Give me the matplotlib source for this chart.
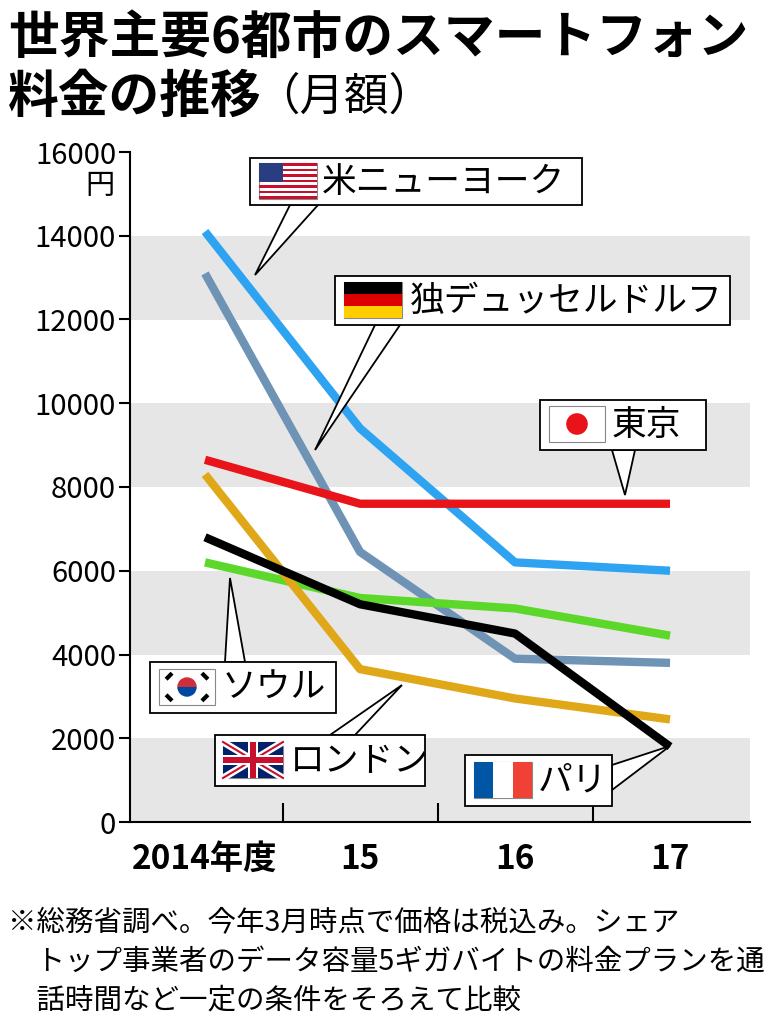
import matplotlib
matplotlib.use("Agg")
import matplotlib.pyplot as plt
from matplotlib.patches import Rectangle, Circle, Polygon, Wedge
import numpy as np

plt.rcParams['font.family'] = ['Noto Sans CJK JP', 'DejaVu Sans']

years = ["2014年度", "15", "16", "17"]
ny = [14100, 9400, 6200, 6000]
dus = [13100, 6450, 3900, 3800]
tokyo = [8650, 7600, 7600, 7600]
seoul = [6200, 5350, 5100, 4450]
london = [8300, 3650, 2950, 2450]
paris = [6800, 5200, 4500, 1800]

W, H = 770, 1024
fig = plt.figure(figsize=(7.7, 10.24), dpi=100)
def fx(x): return x / W
def fy(y): return 1 - y / H

ax = fig.add_axes([fx(130), fy(822), 620 / W, 670 / H])
ax.set_xlim(-0.484, 3.516)
ax.set_ylim(0, 16000)
for lo in [0, 4000, 8000, 12000]:
    ax.axhspan(lo, lo + 2000, color='#e6e6e6', lw=0, zorder=0)
x = np.arange(4)
for vals, c in [(ny, '#2ea3f2'), (dus, '#6e93b5'), (tokyo, '#e8141a'),
                (seoul, '#5cd82a'), (london, '#e0a818'), (paris, '#000000')]:
    ax.plot(x, vals, color=c, lw=6, solid_capstyle='butt', solid_joinstyle='round', zorder=3)
for s in ['top', 'right']:
    ax.spines[s].set_visible(False)
ax.spines['left'].set_linewidth(1.5)
ax.spines['bottom'].set_linewidth(1.5)
ax.set_yticks(range(0, 16001, 2000))
ax.set_yticklabels([str(v) for v in range(0, 16001, 2000)], fontsize=21)
ax.tick_params(axis='y', length=8, width=1.5, pad=2)
ax.set_xticks([0.5, 1.5, 2.5])
ax.set_xticklabels([])
ax.tick_params(axis='x', length=14, width=1.5, direction='in')
for i, t in enumerate(years):
    ax.text(i, -500, t, ha='center', va='top', fontsize=24, fontweight='bold')
fig.text(fx(100), fy(186), "円", fontsize=21, ha='center', va='center')

fig.text(fx(8), fy(38), "世界主要6都市のスマートフォン", fontsize=36.5, fontweight='bold', va='center')
fig.text(fx(8), fy(97), "料金の推移", fontsize=36.5, fontweight='bold', va='center')
fig.text(fx(255), fy(97), "（月額）", fontsize=32, va='center')

fig.text(fx(8), fy(922), "※総務省調べ。今年3月時点で価格は税込み。シェア", fontsize=20.5, va='center')
fig.text(fx(8), fy(962), "　トップ事業者のデータ容量5ギガバイトの料金プランを通", fontsize=20.5, va='center')
fig.text(fx(8), fy(1000), "　話時間など一定の条件をそろえて比較", fontsize=20.5, va='center')

ov = fig.add_axes([0, 0, 1, 1], zorder=10)
ov.set_xlim(0, W); ov.set_ylim(H, 0); ov.axis('off')

def box(x0, y0, x1, y1, text, tx, leader):
    ov.add_patch(Polygon(leader, closed=True, fc='white', ec='black', lw=1.3, zorder=1))
    ov.add_patch(Rectangle((x0, y0), x1 - x0, y1 - y0, fc='white', ec='black', lw=1.3, zorder=2))
    ov.text(tx, (y0 + y1) / 2 + 1, text, fontsize=25, va='center', ha='left', zorder=3)

def flag(kind, x0, y0, w, h):
    z = 4
    ov.add_patch(Rectangle((x0, y0), w, h, fc='white', ec='#888', lw=0.8, zorder=z))
    if kind == 'us':
        for i in range(13):
            if i % 2 == 0:
                ov.add_patch(Rectangle((x0, y0 + i * h / 13), w, h / 13, fc='#c8102e', lw=0, zorder=z))
        ov.add_patch(Rectangle((x0, y0), w * 0.42, h * 7 / 13, fc='#2a3d80', lw=0, zorder=z))
    elif kind == 'de':
        for i, c in enumerate(['black', '#dd0000', '#ffce00']):
            ov.add_patch(Rectangle((x0, y0 + i * h / 3), w, h / 3, fc=c, lw=0, zorder=z))
    elif kind == 'jp':
        ov.add_patch(Circle((x0 + w / 2, y0 + h / 2), h * 0.3, fc='#e8141a', lw=0, zorder=z))
    elif kind == 'kr':
        cx, cy, r = x0 + w / 2, y0 + h / 2, h * 0.27
        ov.add_patch(Wedge((cx, cy), r, 180, 360, fc='#cd2e3a', lw=0, zorder=z))
        ov.add_patch(Wedge((cx, cy), r, 0, 180, fc='#0047a0', lw=0, zorder=z))
        for dx, dy in [(-1, -1), (1, 1), (-1, 1), (1, -1)]:
            px, py = cx + dx * w * 0.32, cy + dy * h * 0.3
            sgn = 1 if dx * dy > 0 else -1
            ov.plot([px - 3, px + 3], [py + 3 * sgn, py - 3 * sgn], color='black', lw=3,
                    zorder=z, solid_capstyle='butt')
    elif kind == 'uk':
        ov.add_patch(Rectangle((x0, y0), w, h, fc='#012169', lw=0, zorder=z))
        ov.plot([x0, x0 + w], [y0, y0 + h], color='white', lw=5, zorder=z)
        ov.plot([x0, x0 + w], [y0 + h, y0], color='white', lw=5, zorder=z)
        ov.plot([x0, x0 + w], [y0, y0 + h], color='#c8102e', lw=1.5, zorder=z)
        ov.plot([x0, x0 + w], [y0 + h, y0], color='#c8102e', lw=1.5, zorder=z)
        ov.add_patch(Rectangle((x0, y0 + h * 0.36), w, h * 0.28, fc='white', lw=0, zorder=z))
        ov.add_patch(Rectangle((x0 + w / 2 - h * 0.14, y0), h * 0.28, h, fc='white', lw=0, zorder=z))
        ov.add_patch(Rectangle((x0, y0 + h * 0.42), w, h * 0.16, fc='#c8102e', lw=0, zorder=z))
        ov.add_patch(Rectangle((x0 + w / 2 - h * 0.08, y0), h * 0.16, h, fc='#c8102e', lw=0, zorder=z))
    elif kind == 'fr':
        for i, c in enumerate(['#0055a4', 'white', '#ef4135']):
            ov.add_patch(Rectangle((x0 + i * w / 3, y0), w / 3, h, fc=c, lw=0, zorder=z))

box(250, 158, 582, 205, "米ニューヨーク", 322, [(290, 205), (318, 205), (255, 275)])
flag('us', 259, 163, 58, 36)
box(335, 276, 730, 325, "独デュッセルドルフ", 410, [(375, 325), (400, 325), (315, 450)])
flag('de', 344, 282, 58, 36)
box(540, 400, 706, 450, "東京", 612, [(612, 450), (635, 450), (625, 495)])
flag('jp', 549, 406, 56, 36)
box(150, 662, 336, 713, "ソウル", 222, [(225, 662), (245, 662), (230, 578)])
flag('kr', 159, 669, 56, 36)
box(215, 735, 425, 786, "ロンドン", 290, [(330, 735), (355, 735), (402, 685)])
flag('uk', 223, 742, 60, 36)
box(465, 755, 612, 806, "パリ", 538, [(612, 765), (612, 790), (670, 746)])
flag('fr', 474, 762, 58, 36)

fig.savefig("out.png", dpi=100)
